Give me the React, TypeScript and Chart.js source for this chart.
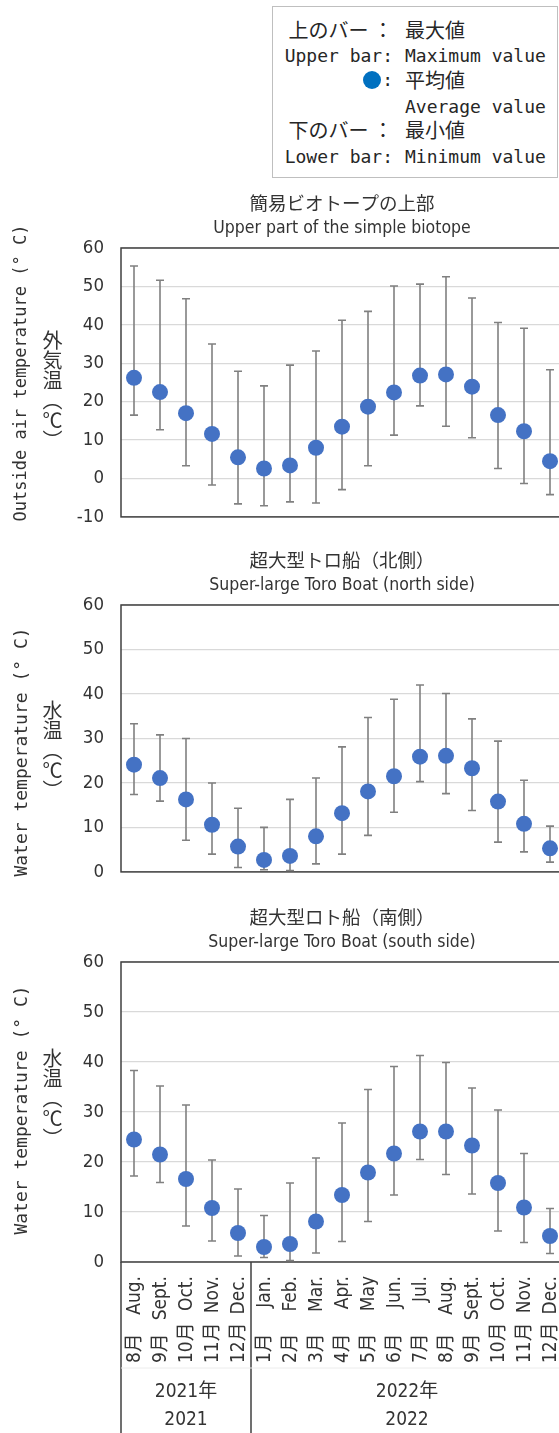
import React, { useEffect, useRef } from "react";
import { Chart, registerables } from "chart.js";

Chart.register(...registerables);

// ---------- data ----------
const monthJa = ["8月", "9月", "10月", "11月", "12月", "1月", "2月", "3月", "4月", "5月", "6月", "7月", "8月", "9月", "10月", "11月", "12月"];
const monthEn = ["Aug.", "Sept.", "Oct.", "Nov.", "Dec.", "Jan.", "Feb.", "Mar.", "Apr.", "May", "Jun.", "Jul.", "Aug.", "Sept.", "Oct.", "Nov.", "Dec."];
const monthLabels = monthJa.map((m, i) => `${m} ${monthEn[i]}`);
const yearLabelsJa = ["2021年", "2022年"];
const yearLabelsEn = ["2021", "2022"];
const yearGroupSizes = [5, 12];

const airMax = [55.3, 51.6, 46.8, 35.0, 27.9, 24.1, 29.5, 33.2, 41.2, 43.5, 50.1, 50.6, 52.5, 47.0, 40.6, 39.1, 28.3];
const airAvg = [26.2, 22.5, 17.0, 11.6, 5.5, 2.6, 3.4, 8.0, 13.5, 18.7, 22.4, 26.8, 27.1, 23.9, 16.5, 12.3, 4.5];
const airMin = [16.5, 12.7, 3.3, -1.7, -6.6, -7.1, -6.1, -6.4, -2.9, 3.3, 11.3, 18.9, 13.6, 10.6, 2.6, -1.3, -4.2];

const northMax = [33.3, 30.8, 30.0, 20.0, 14.3, 10.0, 16.3, 21.1, 28.1, 34.7, 38.8, 42.0, 40.1, 34.4, 29.4, 20.6, 10.3];
const northAvg = [24.1, 21.1, 16.3, 10.6, 5.7, 2.7, 3.6, 8.0, 13.2, 18.1, 21.5, 25.9, 26.1, 23.3, 15.8, 10.8, 5.3];
const northMin = [17.4, 15.9, 7.1, 4.0, 1.0, 0.5, 0.3, 1.8, 4.0, 8.2, 13.4, 20.3, 17.6, 13.8, 6.7, 4.5, 2.2];

const southMax = [38.3, 35.2, 31.4, 20.4, 14.6, 9.3, 15.8, 20.8, 27.8, 34.5, 39.1, 41.3, 39.9, 34.8, 30.4, 21.7, 10.7];
const southAvg = [24.5, 21.5, 16.6, 10.8, 5.8, 3.0, 3.6, 8.1, 13.4, 17.9, 21.7, 26.1, 26.1, 23.3, 15.8, 10.9, 5.2];
const southMin = [17.2, 15.9, 7.2, 4.2, 1.2, 0.9, 0.3, 1.8, 4.1, 8.1, 13.4, 20.5, 17.5, 13.6, 6.2, 3.9, 1.7];

// ---------- styles ----------
const COND = "'DejaVu Sans Condensed', 'Noto Sans CJK JP', sans-serif";
const MONO = "'DejaVu Sans Mono', 'Noto Sans CJK JP', monospace";
const CJK = "'Noto Sans CJK JP', sans-serif";
const TEXT = "#333333";
const DOT = "#4472C4";
const BAR = "#808080";

type PanelProps = {
  top: number;
  height: number;
  padTop: number;
  padBottom: number;
  yMin: number;
  titleJa: string;
  titleEn: string;
  yTitleEn: string;
  yTitleSize: number;
  yTitleCenter: number; // page y of the english y-title centre
  maxV: number[];
  avgV: number[];
  minV: number[];
  showX: boolean;
};

function Panel(p: PanelProps) {
  const ref = useRef<HTMLCanvasElement>(null);
  useEffect(() => {
    const canvas = ref.current!;
    const deco = {
      id: "deco" + p.top,
      beforeDatasetsDraw(chart: any) {
        const ctx = chart.ctx;
        const ca = chart.chartArea;
        const xs = chart.scales.x;
        const ys = chart.scales.y;
        ctx.save();
        ctx.strokeStyle = "#404040";
        ctx.lineWidth = 1.5;
        ctx.strokeRect(ca.left, ca.top, ca.right - ca.left, ca.bottom - ca.top);
        ctx.strokeStyle = BAR;
        ctx.lineWidth = 1.6;
        for (let i = 0; i < p.avgV.length; i++) {
          const x = xs.getPixelForTick(i);
          const yt = ys.getPixelForValue(p.maxV[i]);
          const yb = ys.getPixelForValue(p.minV[i]);
          ctx.beginPath();
          ctx.moveTo(x, yt);
          ctx.lineTo(x, yb);
          ctx.moveTo(x - 4, yt);
          ctx.lineTo(x + 4, yt);
          ctx.moveTo(x - 4, yb);
          ctx.lineTo(x + 4, yb);
          ctx.stroke();
        }
        ctx.restore();
      },
      afterDraw(chart: any) {
        const ctx = chart.ctx;
        const ca = chart.chartArea;
        const xs = chart.scales.x;
        const cx = (ca.left + ca.right) / 2;
        ctx.save();
        ctx.fillStyle = TEXT;
        ctx.textAlign = "center";
        ctx.textBaseline = "middle";
        ctx.font = `18.5px ${CJK}`;
        ctx.fillText(p.titleJa, cx, ca.top - 45);
        ctx.font = `17.5px ${COND}`;
        ctx.fillText(p.titleEn, cx, ca.top - 20);
        // english y title
        ctx.save();
        ctx.translate(22, p.yTitleCenter - p.top);
        ctx.rotate(-Math.PI / 2);
        ctx.font = `${p.yTitleSize}px ${MONO}`;
        ctx.fillText(p.yTitleEn, 0, 0);
        ctx.restore();
        if (p.showX) {
          const h = chart.height;
          // month labels, rotated, read bottom-to-top
          ctx.font = `19px ${COND}`;
          for (let i = 0; i < monthJa.length; i++) {
            const x = xs.getPixelForTick(i);
            ctx.save();
            ctx.translate(x, 0);
            ctx.rotate(-Math.PI / 2);
            ctx.textBaseline = "middle";
            ctx.textAlign = "right";
            ctx.fillText(monthEn[i], -(ca.bottom + 14), 1);
            ctx.textAlign = "left";
            ctx.fillText(monthJa[i], -(ca.bottom + 101), 1);
            ctx.restore();
          }
          ctx.strokeStyle = "#404040";
          ctx.lineWidth = 1.5;
          let start = 0;
          const bounds: number[] = [ca.left];
          for (let g = 0; g < yearGroupSizes.length; g++) {
            const end = start + yearGroupSizes[g] - 1;
            const right =
              end + 1 < monthJa.length
                ? (xs.getPixelForTick(end) + xs.getPixelForTick(end + 1)) / 2
                : ca.right;
            bounds.push(right);
            start = end + 1;
          }
          for (const b of bounds) {
            ctx.beginPath();
            ctx.moveTo(b, ca.bottom);
            ctx.lineTo(b, h);
            ctx.stroke();
          }
          ctx.strokeStyle = "#ececec";
          ctx.lineWidth = 1;
          ctx.beginPath();
          ctx.moveTo(ca.left, ca.bottom + 106);
          ctx.lineTo(ca.right, ca.bottom + 106);
          ctx.stroke();
          ctx.textAlign = "center";
          ctx.textBaseline = "middle";
          ctx.font = `19px ${COND}`;
          for (let g = 0; g < yearGroupSizes.length; g++) {
            const gx = (bounds[g] + bounds[g + 1]) / 2;
            ctx.fillText(yearLabelsJa[g], gx, ca.bottom + 130);
            ctx.fillText(yearLabelsEn[g], gx, ca.bottom + 158);
          }
        }
        ctx.restore();
      },
    };

    const chart = new Chart(canvas, {
      type: "line",
      data: {
        labels: monthLabels,
        datasets: [
          {
            data: p.avgV,
            showLine: false,
            pointRadius: 8,
            pointHoverRadius: 8,
            pointBackgroundColor: DOT,
            pointBorderColor: DOT,
            pointBorderWidth: 0,
            clip: false,
          } as any,
        ],
      },
      options: {
        responsive: false,
        animation: false,
        devicePixelRatio: 1,
        layout: { padding: { top: p.padTop, bottom: p.padBottom, left: 0, right: 17 } },
        plugins: { legend: { display: false }, tooltip: { enabled: false }, title: { display: false } },
        events: [],
        scales: {
          x: {
            type: "category",
            offset: true,
            display: p.showX,
            grid: { display: false, drawTicks: false },
            border: { display: false },
            ticks: { display: false, autoSkip: false },
            afterFit: (s: any) => {
              if (p.showX) s.height = 171;
            },
          },
          y: {
            min: p.yMin,
            max: 60,
            ticks: { stepSize: 10, padding: 17, color: TEXT, font: { family: COND, size: 18.5 } },
            grid: { color: "#d9d9d9", lineWidth: 1.3, drawTicks: false },
            border: { display: false },
            afterFit: (s: any) => {
              s.width = 121;
            },
          },
        },
      } as any,
      plugins: [deco],
    });
    return () => chart.destroy();
  }, []);
  return (
    <canvas
      ref={ref}
      width={580}
      height={p.height}
      style={{ position: "absolute", left: 0, top: p.top, width: 580, height: p.height, display: "block" }}
    />
  );
}

function VLabel({ text, cy }: { text: string; cy: number }) {
  return (
    <div
      style={{
        position: "absolute",
        left: 52,
        top: cy,
        transform: "translate(-50%, -50%)",
        writingMode: "vertical-rl",
        fontFamily: CJK,
        fontSize: 20,
        lineHeight: "22px",
        color: TEXT,
        whiteSpace: "nowrap",
      }}
    >
      {text}
    </div>
  );
}

const legendRows: { cy: number; left: string; right: string; cjk: boolean }[] = [
  { cy: 30, left: "上のバー ：", right: "最大値", cjk: true },
  { cy: 56, left: "Upper bar:", right: "Maximum value", cjk: false },
  { cy: 80, left: "dot", right: "平均値", cjk: true },
  { cy: 107, left: "", right: "Average value", cjk: false },
  { cy: 130, left: "下のバー ：", right: "最小値", cjk: true },
  { cy: 157, left: "Lower bar:", right: "Minimum value", cjk: false },
];

function Legend() {
  return (
    <>
      <div
        style={{
          position: "absolute",
          left: 272,
          top: 6,
          width: 286,
          height: 172,
          border: "1px solid #bfbfbf",
          boxSizing: "border-box",
          background: "#fff",
        }}
      />
      {legendRows.map((r, i) => (
        <React.Fragment key={i}>
          <div
            style={{
              position: "absolute",
              right: 559 - 393,
              top: r.cy - 13,
              height: 26,
              lineHeight: "26px",
              whiteSpace: "nowrap",
              textAlign: "right",
              fontFamily: r.cjk ? CJK : MONO,
              fontSize: r.cjk ? 20 : 18,
              color: "#262626",
              display: "flex",
              alignItems: "center",
            }}
          >
            {r.left === "dot" ? (
              <>
                <span
                  style={{
                    display: "inline-block",
                    width: 18,
                    height: 18,
                    borderRadius: 9,
                    background: "#0070C0",
                    marginRight: 1,
                  }}
                />
                <span style={{ fontFamily: MONO, fontSize: 18 }}>:</span>
              </>
            ) : (
              r.left
            )}
          </div>
          <div
            style={{
              position: "absolute",
              left: 405,
              top: r.cy - 13,
              height: 26,
              lineHeight: "26px",
              whiteSpace: "nowrap",
              fontFamily: r.cjk ? CJK : MONO,
              fontSize: r.cjk ? 20 : 18,
              color: "#262626",
            }}
          >
            {r.right}
          </div>
        </React.Fragment>
      ))}
    </>
  );
}

export default function App() {
  return (
    <div
      style={{
        position: "fixed",
        left: 0,
        top: 0,
        width: 559,
        height: 1433,
        overflow: "hidden",
        background: "#ffffff",
      }}
    >
      <Legend />
      <Panel
        top={180}
        height={365}
        padTop={68}
        padBottom={5}
        yMin={-10}
        titleJa="簡易ビオトープの上部"
        titleEn="Upper part of the simple biotope"
        yTitleEn="Outside air temperature (° C)"
        yTitleSize={17}
        yTitleCenter={373}
        maxV={airMax}
        avgV={airAvg}
        minV={airMin}
        showX={false}
      />
      <Panel
        top={545}
        height={355}
        padTop={60}
        padBottom={3}
        yMin={0}
        titleJa="超大型トロ船（北側）"
        titleEn="Super-large Toro Boat (north side)"
        yTitleEn="Water temperature (° C)"
        yTitleSize={18}
        yTitleCenter={752}
        maxV={northMax}
        avgV={northAvg}
        minV={northMin}
        showX={false}
      />
      <Panel
        top={900}
        height={533}
        padTop={62}
        padBottom={0}
        yMin={0}
        titleJa="超大型ロト船（南側）"
        titleEn="Super-large Toro Boat (south side)"
        yTitleEn="Water temperature (° C)"
        yTitleSize={18}
        yTitleCenter={1110}
        maxV={southMax}
        avgV={southAvg}
        minV={southMin}
        showX={true}
      />
      <VLabel text="外気温（℃）" cy={390} />
      <VLabel text="水温（℃）" cy={750} />
      <VLabel text="水温（℃）" cy={1098} />
    </div>
  );
}
